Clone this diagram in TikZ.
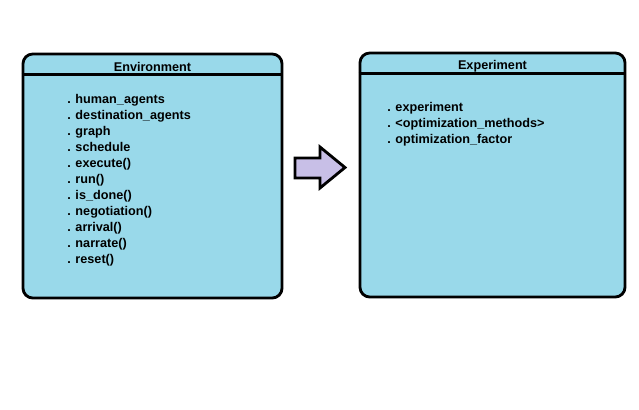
\documentclass[tikz,border=0pt]{standalone}
\usepackage{fontspec}
\setmainfont{Liberation Sans}
\usetikzlibrary{positioning}
\definecolor{classblue}{RGB}{153,217,234}
\definecolor{arrowlilac}{RGB}{200,191,231}

\begin{document}
\begin{tikzpicture}[x=0.025cm, y=-0.025cm,
    classbox/.style={draw, line width=2pt, rounded corners=7pt, fill=classblue, inner sep=0pt},
    classname/.style={font=\fontsize{9}{11}\selectfont\bfseries, inner sep=0pt},
    member/.style={font=\fontsize{9}{11}\selectfont\bfseries, anchor=base west, inner sep=0pt},
    divider/.style={line width=2pt},
    bigarrow/.style={draw, line width=2pt, fill=arrowlilac, line join=miter}
  ]
    \useasboundingbox (0,0) rectangle (639,409);

    % Environment class.
    \node[classbox, minimum width=6.475cm, minimum height=6.1cm] at (152.5,176) (env) {};
    \draw[divider] ([yshift=-0.55cm]env.north west) -- ([yshift=-0.55cm]env.north east);
    \node[classname] at ([yshift=-0.36cm]env.north) (envtitle) {Environment};
    \foreach \member [count=\i from 0] in {human\_agents, destination\_agents, graph, schedule, execute(), run(), is\_done(), negotiation(), arrival(), narrate(), reset()}
      \node[member] at (67,103.5+16*\i) (envm\i) {. \member};

    % Experiment class.
    \node[classbox, minimum width=6.625cm, minimum height=6.1cm] at (492.5,175) (exp) {};
    \draw[divider] ([yshift=-0.55cm]exp.north west) -- ([yshift=-0.55cm]exp.north east);
    \node[classname] at ([yshift=-0.375cm]exp.north) (exptitle) {Experiment};
    \foreach \member [count=\i from 0] in {experiment, <optimization\_methods>, optimization\_factor}
      \node[member] at (387,111.5+16*\i) (expm\i) {. \member};

    % Arrow between the classes.
    \draw[bigarrow] (295,158) -- (320,158) -- (320,147) -- (345,167.5) -- (320,188) -- (320,178) -- (295,178) -- cycle;
\end{tikzpicture}
\end{document}
